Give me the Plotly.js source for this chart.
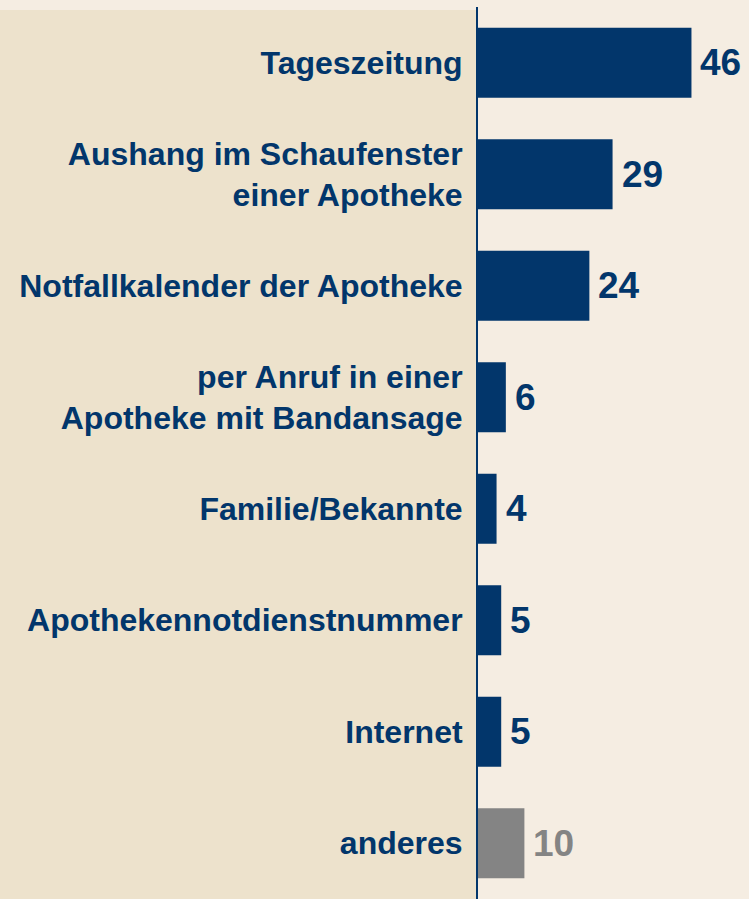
<!DOCTYPE html>
<html>
<head>
<meta charset="utf-8">
<script src="https://cdn.plot.ly/plotly-3.0.1.min.js"></script>
<style>
  html, body { margin: 0; padding: 0; background: #f5ede2; }
  #chart { width: 749px; height: 899px; }
</style>
</head>
<body>
<div id="chart"></div>
<script>
const categories = [
  "Tageszeitung",
  "Aushang im Schaufenster<br>einer Apotheke",
  "Notfallkalender der Apotheke",
  "per Anruf in einer<br>Apotheke mit Bandansage",
  "Familie/Bekannte",
  "Apothekennotdienstnummer",
  "Internet",
  "anderes"
];
const values = [46, 29, 24, 6, 4, 5, 5, 10];
const barColors = ["#02366b", "#02366b", "#02366b", "#02366b", "#02366b", "#02366b", "#02366b", "#848484"];

const navy = "#02366b";
const fontFam = '"Liberation Sans", Arial, Helvetica, sans-serif';

const annotations = categories.map((c, i) => ({
  x: values[i], y: c, xref: "x", yref: "y",
  text: String(values[i]),
  showarrow: false, xanchor: "left", yanchor: "middle",
  xshift: 7,
  font: { family: fontFam, size: 37, color: barColors[i], weight: "bold" }
}));

const trace = {
  type: "bar",
  orientation: "h",
  x: values,
  y: categories,
  marker: { color: barColors },
  width: 0.63,
  hoverinfo: "skip"
};

const layout = {
  width: 749, height: 899,
  margin: { l: 478, r: 0, t: 7, b: 0, pad: 0 },
  paper_bgcolor: "#f5ede2",
  plot_bgcolor: "rgba(0,0,0,0)",
  showlegend: false,
  xaxis: {
    range: [0, 58.4], visible: false, fixedrange: true
  },
  yaxis: {
    autorange: "reversed",
    showline: true, linecolor: navy, linewidth: 2,
    showgrid: false, zeroline: false, ticks: "",
    ticklabelstandoff: 7,
    tickfont: { family: fontFam, size: 32, color: navy, weight: "bold" },
    fixedrange: true
  },
  shapes: [{
    type: "rect", layer: "below", xref: "paper", yref: "paper",
    x0: -478 / 271, x1: -1 / 271, y0: 0, y1: (899 - 10) / 892,
    fillcolor: "#ede2cc", line: { width: 0 }
  }],
  annotations: annotations
};

Plotly.newPlot("chart", [trace], layout, { displayModeBar: false, staticPlot: true });
</script>
</body>
</html>
